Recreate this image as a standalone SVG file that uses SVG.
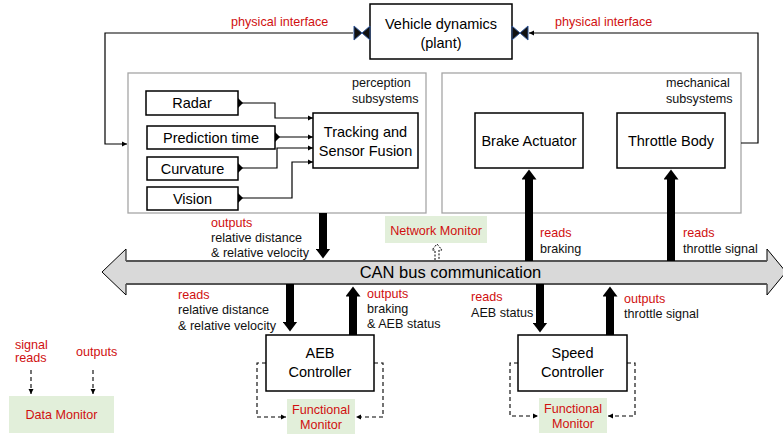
<svg xmlns="http://www.w3.org/2000/svg" width="783" height="437" viewBox="0 0 783 437">
<style>
text{font-family:"Liberation Sans",Arial,sans-serif}
.box{fill:#fff;stroke:#000;stroke-width:1.5}
.grp{fill:#fff;stroke:#a6a6a6;stroke-width:1.3}
.mon{fill:#e2efda;stroke:none}
.lbl{font-size:14.5px;fill:#000;text-anchor:middle}
.sm{font-size:12.6px;fill:#111}
.red{fill:#d01010}
.c{text-anchor:middle}
.thin{fill:none;stroke:#000;stroke-width:1.2}
.thick{fill:none;stroke:#000;stroke-width:8}
.dash{fill:none;stroke:#000;stroke-width:1.1;stroke-dasharray:4,3}
.bow{fill:#111;stroke:#2f5496;stroke-width:1}
</style>
<defs>
<marker id="ah" markerUnits="userSpaceOnUse" markerWidth="6" markerHeight="6" refX="5" refY="3" orient="auto"><path d="M0,0.5 L5,3 L0,5.5 z" fill="#000"/></marker>
<marker id="src" markerUnits="userSpaceOnUse" markerWidth="6" markerHeight="10" refX="0" refY="5" orient="auto"><path d="M0,0 L5,5 L0,10 z" fill="#000"/></marker>
<marker id="big" markerUnits="userSpaceOnUse" markerWidth="11" markerHeight="15" refX="0.5" refY="7.5" orient="auto"><path d="M0,0 L10,7.5 L0,15 z" fill="#000"/></marker>
</defs>

<!-- containers -->
<g id="perception">
<rect class="grp" x="128" y="73" width="298" height="140"/>
<text class="sm" x="352" y="87">perception</text>
<text class="sm" x="352" y="103">subsystems</text>
</g>
<g id="mechanical">
<rect class="grp" x="442" y="73" width="299" height="140"/>
<text class="sm" x="666" y="87">mechanical</text>
<text class="sm" x="666" y="103">subsystems</text>
</g>

<!-- CAN bus -->
<g id="canbus">
<path d="M102,272 L126,249 L126,261 L767,261 L767,249 L786,272 L767,295 L767,284 L126,284 L126,295 Z" fill="#d9d9d9" stroke="#000" stroke-width="1"/>
<line x1="126" y1="261" x2="767" y2="261" stroke="#555" stroke-width="2"/>
<line x1="126" y1="284" x2="767" y2="284" stroke="#555" stroke-width="2"/>
<text x="450.5" y="278" style="font-size:16.5px" class="c">CAN bus communication</text>
</g>

<g id="connectors">
<!-- physical interface loops -->
<polyline class="thin" points="353,33 105,33 105,144 127,144" marker-end="url(#ah)"/>
<polyline class="thin" points="741,143 758,143 758,33 529,33" marker-end="url(#ah)"/>
<!-- sensor inputs -->
<polyline class="thin" points="238,103 275,103 275,118 313,118" marker-start="url(#src)" marker-end="url(#ah)"/>
<polyline class="thin" points="275,137 313,137" marker-start="url(#src)" marker-end="url(#ah)"/>
<polyline class="thin" points="238,168 277,168 277,148 313,148" marker-start="url(#src)" marker-end="url(#ah)"/>
<polyline class="thin" points="238,198 292,198 292,162 313,162" marker-start="url(#src)" marker-end="url(#ah)"/>
<!-- thick bus arrows -->
<line class="thick" x1="323" y1="213" x2="323" y2="249" marker-end="url(#big)"/>
<line class="thick" x1="290" y1="284" x2="290" y2="322" marker-end="url(#big)"/>
<line class="thick" x1="353" y1="335" x2="353" y2="296" marker-end="url(#big)"/>
<line class="thick" x1="529" y1="261" x2="529" y2="179" marker-end="url(#big)"/>
<line class="thick" x1="671" y1="261" x2="671" y2="179" marker-end="url(#big)"/>
<line class="thick" x1="540" y1="284" x2="540" y2="323" marker-end="url(#big)"/>
<line class="thick" x1="610" y1="335" x2="610" y2="296" marker-end="url(#big)"/>
<!-- network monitor hollow arrow -->
<path d="M435,260 L435,250 L432,250 L437,244 L442,250 L439,250 L439,260" fill="#fff" stroke="#000" stroke-width="1" stroke-dasharray="2,1.5"/>
<!-- functional monitor dashed loops -->
<polyline class="dash" points="266,363 257,363 257,417 286,417" marker-end="url(#ah)"/>
<polyline class="dash" points="374,363 383,363 383,417 356,417" marker-end="url(#ah)"/>
<polyline class="dash" points="518,363 510,363 510,416 538,416" marker-end="url(#ah)"/>
<polyline class="dash" points="627,363 635,363 635,416 608,416" marker-end="url(#ah)"/>
<!-- data monitor legend -->
<line class="dash" x1="31" y1="370" x2="31" y2="394" marker-end="url(#ah)"/>
<line class="dash" x1="93" y1="370" x2="93" y2="394" marker-end="url(#ah)"/>
</g>

<g id="plant">
<rect class="box" x="370" y="4" width="142" height="55"/>
<text class="lbl" x="441" y="29">Vehicle dynamics</text>
<text class="lbl" x="441" y="48">(plant)</text>
<path class="bow" d="M354,26 L354,40 L362,33 Z M370,26 L370,40 L362,33 Z"/>
<path class="bow" d="M512,26 L512,40 L520,33 Z M528,26 L528,40 L520,33 Z"/>
</g>

<g id="radar"><rect class="box" x="146" y="91" width="92" height="24"/><text class="lbl" x="192" y="108">Radar</text></g>
<g id="prediction"><rect class="box" x="147" y="126" width="128" height="23"/><text class="lbl" x="211" y="143">Prediction time</text></g>
<g id="curvature"><rect class="box" x="147" y="157" width="91" height="23"/><text class="lbl" x="192.5" y="174">Curvature</text></g>
<g id="vision"><rect class="box" x="147" y="187" width="91" height="23"/><text class="lbl" x="192.5" y="204">Vision</text></g>
<g id="fusion"><rect class="box" x="313" y="113" width="105" height="55"/><text class="lbl" x="365.5" y="137">Tracking and</text><text class="lbl" x="365.5" y="156">Sensor Fusion</text></g>
<g id="brake"><rect class="box" x="475" y="113" width="108" height="55"/><text class="lbl" x="529" y="146">Brake Actuator</text></g>
<g id="throttle"><rect class="box" x="617" y="113" width="108" height="55"/><text class="lbl" x="671" y="146">Throttle Body</text></g>
<g id="aeb"><rect class="box" x="266" y="335" width="108" height="56"/><text class="lbl" x="320" y="358">AEB</text><text class="lbl" x="320" y="377">Controller</text></g>
<g id="speed"><rect class="box" x="518" y="335" width="109" height="56"/><text class="lbl" x="572.5" y="358">Speed</text><text class="lbl" x="572.5" y="377">Controller</text></g>

<g id="networkMonitor"><rect class="mon" x="385" y="216" width="102" height="27"/><text class="sm red c" x="436" y="235">Network Monitor</text></g>
<g id="aebMonitor"><rect class="mon" x="287" y="399" width="68" height="35"/><text class="sm red c" x="321" y="414">Functional</text><text class="sm red c" x="321" y="429">Monitor</text></g>
<g id="speedMonitor"><rect class="mon" x="539" y="398" width="68" height="35"/><text class="sm red c" x="573" y="413">Functional</text><text class="sm red c" x="573" y="428">Monitor</text></g>
<g id="dataMonitor"><rect class="mon" x="9" y="396" width="105" height="37"/><text class="sm red c" x="61.5" y="419">Data Monitor</text>
<text class="sm red" x="15" y="349">signal</text><text class="sm red" x="15" y="362">reads</text><text class="sm red" x="76" y="356">outputs</text></g>

<g id="labels">
<text class="sm red" x="231" y="26">physical interface</text>
<text class="sm red" x="555" y="26">physical interface</text>
<text class="sm red" x="211" y="227">outputs</text>
<text class="sm" x="211" y="242">relative distance</text>
<text class="sm" x="211" y="257">&amp; relative velocity</text>
<text class="sm red" x="178" y="299">reads</text>
<text class="sm" x="178" y="314">relative distance</text>
<text class="sm" x="178" y="330">&amp; relative velocity</text>
<text class="sm red" x="367" y="298">outputs</text>
<text class="sm" x="367" y="313">braking</text>
<text class="sm" x="367" y="328">&amp; AEB status</text>
<text class="sm red" x="471" y="301">reads</text>
<text class="sm" x="471" y="317">AEB status</text>
<text class="sm red" x="624" y="303">outputs</text>
<text class="sm" x="624" y="318">throttle signal</text>
<text class="sm red" x="540" y="237">reads</text>
<text class="sm" x="540" y="253">braking</text>
<text class="sm red" x="683" y="237">reads</text>
<text class="sm" x="683" y="253">throttle signal</text>
</g>
</svg>
